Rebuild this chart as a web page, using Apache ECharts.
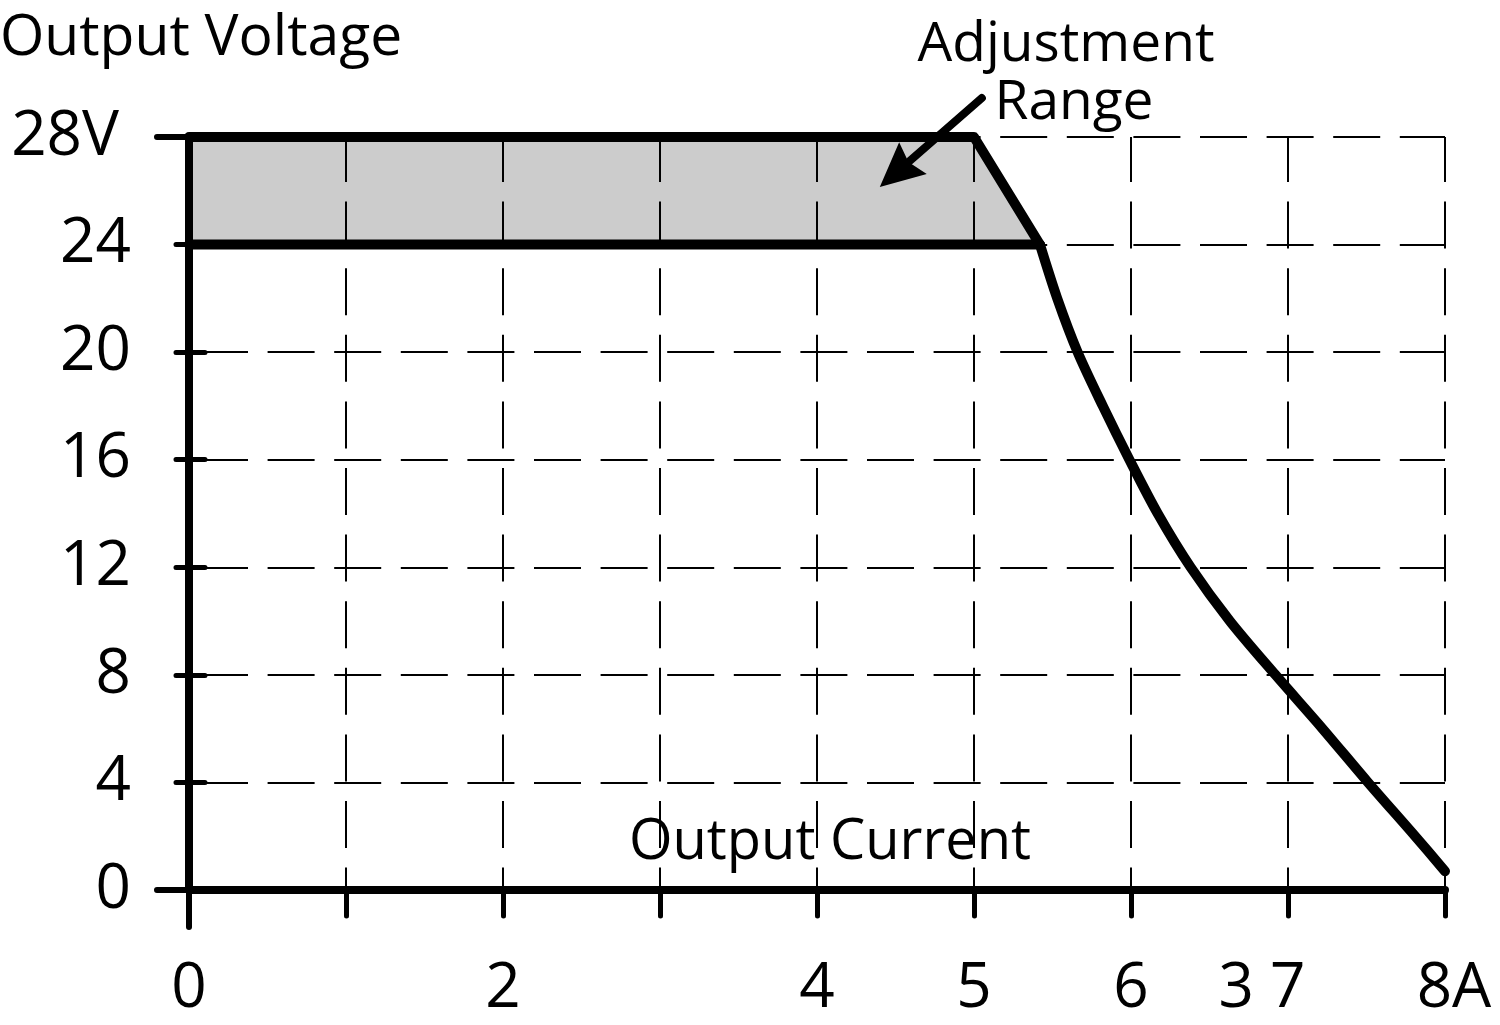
<!DOCTYPE html>
<html>
<head>
<meta charset="utf-8">
<script src="https://cdn.jsdelivr.net/npm/echarts@6/dist/echarts.min.js"></script>
<style>
html,body{margin:0;padding:0;background:#fff;}
#chart{width:1500px;height:1025px;}
</style>
</head>
<body>
<div id="chart"></div>
<script>
// ---- data ----
const xTickValues = [0, 1, 2, 3, 4, 5, 6, 7, 8];
const xTickLabels = ['0', '', '2', '', '4', '5', '6', '3 7', '8A'];
const yTickValues = [0, 4, 8, 12, 16, 20, 24, 28];
const yTickLabels = ['0', '4', '8', '12', '16', '20', '24', '28V'];

const rangeTopX = [0, 5, 5.42];
const rangeTopY = [28, 28, 24];
const rangeBottomX = [0, 5.42];
const rangeBottomY = [24, 24];

const curveX = [5.42, 5.53, 5.66, 5.82, 5.99, 6.17, 6.38, 6.63, 6.92, 7.22, 7.51, 7.81, 8];
const curveY = [24, 22, 20, 18, 16, 14, 12, 10, 8, 6, 4, 2, 0.7];

const arrowFrom = [5.05, 29.45];
const arrowTo = [4.40, 26.14];

const titleY = 'Output Voltage';
const titleX = 'Output Current';
const noteLine1 = 'Adjustment';
const noteLine2 = 'Range';

// ---- build ----
const FONT = '"Open Sans", sans-serif';
const zip = (xs, ys) => xs.map((x, i) => [x, ys[i]]);
const topPts = zip(rangeTopX, rangeTopY);
const bottomPts = zip(rangeBottomX, rangeBottomY);
const curvePts = zip(curveX, curveY);
const fillPts = topPts.concat(bottomPts.slice().reverse());

const chart = echarts.init(document.getElementById('chart'), null, {renderer: 'canvas'});

const option = {
  animation: false,
  backgroundColor: '#ffffff',
  grid: {left: 189, right: 55, top: 137, bottom: 135, containLabel: false},
  xAxis: [{
    type: 'value', min: 0, max: 8, interval: 1,
    axisLine: {show: true, lineStyle: {color: '#000', width: 8, cap: 'round'}},
    axisTick: {show: true, inside: false, length: 26, lineStyle: {color: '#000', width: 5, cap: 'round'}},
    axisLabel: {
      show: true, margin: 68, color: '#000', fontFamily: FONT, fontSize: 62,
      formatter: v => {
        const i = xTickValues.indexOf(v);
        const s = i >= 0 ? xTickLabels[i] : '';
        if (s === '3 7') return '{s|' + s + '}';
        if (s === '8A') return '{e|' + s + '}';
        return s;
      },
      rich: {
        s: {fontFamily: FONT, fontSize: 62, color: '#000', padding: [0, 52, 0, 0]},
        e: {fontFamily: FONT, fontSize: 62, color: '#000', padding: [0, 0, 0, 18]}
      }
    },
    splitLine: {show: true, showMinLine: false, lineStyle: {color: '#000', width: 2, type: [47, 19.6], dashOffset: 2}}
  }, {
    type: 'value', min: 0, max: 8, interval: 1, position: 'bottom',
    axisLine: {show: false},
    axisTick: {show: true, length: 37, customValues: [0], lineStyle: {color: '#000', width: 6, cap: 'round'}},
    axisLabel: {show: false},
    splitLine: {show: false}
  }],
  yAxis: [{
    type: 'value', min: 0, max: 28, interval: 4,
    axisLine: {show: true, lineStyle: {color: '#000', width: 8}},
    axisTick: {show: true, inside: false, length: 13, lineStyle: {color: '#000', width: 5, cap: 'round'}},
    axisLabel: {
      show: true, margin: 58, color: '#000', fontFamily: FONT, fontSize: 62,
      formatter: v => {
        const i = yTickValues.indexOf(v);
        const s = i >= 0 ? yTickLabels[i] : '';
        return s === '28V' ? '{v|' + s + '}' : s;
      },
      rich: {v: {fontFamily: FONT, fontSize: 62, color: '#000', padding: [0, 12, 0, 0]}}
    },
    splitLine: {show: true, showMinLine: false, lineStyle: {color: '#000', width: 2, type: [47, 19.6], dashOffset: 54.6}}
  }, {
    type: 'value', min: 0, max: 28, interval: 4, position: 'left', offset: 0,
    axisLine: {show: false},
    axisTick: {show: true, inside: true, length: 16, lineStyle: {color: '#000', width: 5, cap: 'round'}},
    axisLabel: {show: false},
    splitLine: {show: false}
  }, {
    type: 'value', min: 0, max: 28, interval: 4, position: 'left', offset: 0,
    axisLine: {show: false},
    axisTick: {show: true, inside: false, length: 32, customValues: [0, 28], lineStyle: {color: '#000', width: 6, cap: 'round'}},
    axisLabel: {show: false},
    splitLine: {show: false}
  }],
  series: [
    {
      type: 'custom', name: 'range fill', z: -1, clip: false,
      data: [0],
      renderItem: (params, api) => ({
        type: 'polygon',
        shape: {points: fillPts.map(p => api.coord(p))},
        style: {fill: '#cccccc', stroke: null}
      })
    },
    {
      type: 'line', name: 'range top', data: topPts, symbol: 'none', z: 5,
      lineStyle: {color: '#000', width: 10, cap: 'round', join: 'round'}
    },
    {
      type: 'line', name: 'range bottom', data: bottomPts, symbol: 'none', z: 5,
      lineStyle: {color: '#000', width: 10, cap: 'round', join: 'round'}
    },
    {
      type: 'line', name: 'curve', data: curvePts, symbol: 'none', smooth: 0.3, z: 5, clip: false,
      lineStyle: {color: '#000', width: 10, cap: 'round', join: 'round'}
    },
    {
      type: 'custom', name: 'arrow', z: 6, clip: false,
      data: [0],
      renderItem: (params, api) => {
        const a = api.coord(arrowFrom);
        const b = api.coord(arrowTo);
        const dx = b[0] - a[0], dy = b[1] - a[1];
        const len = Math.sqrt(dx * dx + dy * dy);
        const ux = dx / len, uy = dy / len;
        const headLen = 44, headHalf = 21;
        const base = [b[0] - ux * headLen, b[1] - uy * headLen];
        const px = -uy, py = ux;
        return {
          type: 'group',
          children: [
            {type: 'line', shape: {x1: a[0], y1: a[1], x2: base[0] + ux * 4, y2: base[1] + uy * 4},
             style: {stroke: '#000', lineWidth: 8, lineCap: 'round'}},
            {type: 'polygon', shape: {points: [
              [b[0], b[1]],
              [base[0] + px * headHalf, base[1] + py * headHalf],
              [base[0] + ux * 6, base[1] + uy * 6],
              [base[0] - px * headHalf, base[1] - py * headHalf]
            ]}, style: {fill: '#000'}}
          ]
        };
      }
    }
  ],
  graphic: [
    {type: 'text', left: 0, top: 10, style: {text: titleY, font: '57px ' + FONT, fill: '#000'}},
    {type: 'text', x: 1066, y: 18, style: {text: noteLine1, font: '55px ' + FONT, fill: '#000', align: 'center'}},
    {type: 'text', x: 1074, y: 76, style: {text: noteLine2, font: '55px ' + FONT, fill: '#000', align: 'center'}},
    {type: 'text', x: 830, y: 815, style: {text: titleX, font: '56px ' + FONT, fill: '#000', align: 'center'}}
  ]
};
chart.setOption(option);
</script>
</body>
</html>
